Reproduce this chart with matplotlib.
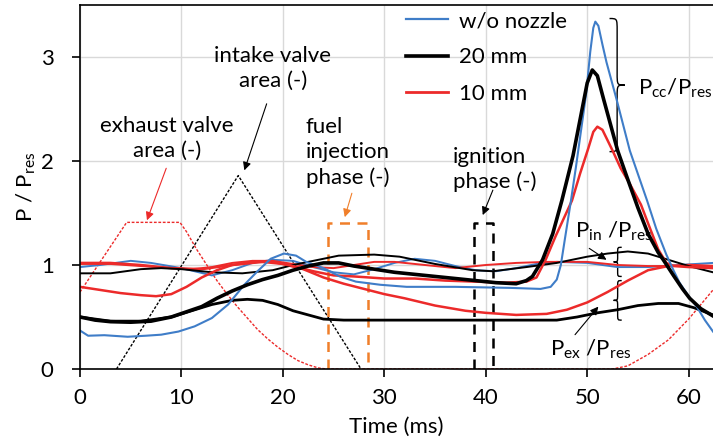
import matplotlib
matplotlib.use("Agg")
import matplotlib.pyplot as plt
from matplotlib.path import Path
from matplotlib.patches import PathPatch
from matplotlib.lines import Line2D

plt.rcParams.update({"font.family": ["Lato", "DejaVu Sans"], "font.size": 15,
                     "mathtext.fontset": "custom", "mathtext.rm": "Lato",
                     "mathtext.it": "Lato:italic", "mathtext.bf": "Lato:bold"})

CBLUE, CBLACK, CRED, CORANGE = "#3f7dc8", "#000000", "#ec2a2a", "#f07f2a"

# ---- data (time in ms, pressure ratio) ----
T_CC_BLUE = [0, 0.8, 2.4, 4.7, 6.5, 8, 9.7, 11.3, 13, 14.6, 16.2, 17.5, 18.8, 20.1, 21.3, 22.3, 24, 25.6,
             27.2, 29.6, 32.2, 37, 42.4, 45.4, 46.4, 47.0, 47.4, 47.8, 48.4, 48.9, 49.4, 49.9, 50.3, 50.6,
             50.8, 51.1, 51.5, 51.9, 52.9, 54.2, 55.9, 56.8, 57.8, 58.5, 59.1, 60.0, 60.8, 61.6, 62.4]
CC_BLUE = [0.37, 0.32, 0.325, 0.31, 0.32, 0.33, 0.36, 0.41, 0.49, 0.62, 0.81, 0.94, 1.06, 1.11, 1.09, 1.03,
           0.97, 0.89, 0.84, 0.81, 0.79, 0.79, 0.78, 0.77, 0.79, 0.86, 1.0, 1.25, 1.62, 1.95, 2.3, 2.65,
           3.05, 3.28, 3.34, 3.3, 3.12, 2.95, 2.59, 2.1, 1.62, 1.35, 1.1, 0.95, 0.83, 0.7, 0.6, 0.47, 0.36]
T_IN_BLUE = [0, 2, 5, 7, 10, 13, 15, 17, 19, 21, 23, 25, 27, 29, 31, 33, 35, 37, 39, 41, 43, 45, 47, 50,
             53, 56, 59, 62.4]
IN_BLUE = [0.98, 1.0, 1.04, 1.02, 0.97, 0.9, 0.95, 1.02, 1.05, 1.04, 0.98, 0.93, 0.91, 0.96, 1.02, 1.06,
           1.04, 0.99, 0.95, 0.94, 0.97, 1.01, 1.03, 1.02, 0.98, 0.98, 1.0, 1.02]

T_CC_BLACK = [0, 1.5, 3, 5, 7, 9, 10.5, 12, 13.5, 15, 16.5, 18, 19.5, 21, 22.5, 24, 25.5, 27, 29, 31, 33,
              35, 37, 39, 41, 43, 44, 44.6, 45.6, 46.6, 47.5, 48.6, 49.5, 50.0, 50.5, 51.0, 51.6, 52.3, 53.0,
              53.9, 55.0, 56.0, 57.0, 57.5, 58.5, 59.4, 60.1, 61.2, 62.4]
CC_BLACK = [0.5, 0.47, 0.455, 0.45, 0.46, 0.5, 0.55, 0.6, 0.68, 0.75, 0.81, 0.86, 0.9, 0.95, 0.99, 1.02,
            1.02, 0.99, 0.96, 0.93, 0.91, 0.89, 0.87, 0.85, 0.83, 0.82, 0.85, 0.89, 1.05, 1.3, 1.62, 2.05,
            2.5, 2.75, 2.875, 2.82, 2.6, 2.35, 2.1, 1.85, 1.55, 1.3, 1.12, 1.05, 0.9, 0.77, 0.68, 0.58, 0.51]
T_IN_BLACK = [0, 3, 6, 8, 10, 13, 16, 19, 21, 23, 25.5, 29, 31.5, 35, 38.7, 40.7, 44, 47, 50, 52, 54, 56,
              58, 60, 62.4]
IN_BLACK = [0.92, 0.92, 0.96, 0.97, 0.96, 0.93, 0.92, 0.95, 1.0, 1.04, 1.09, 1.1, 1.08, 1.01, 0.95, 0.94,
            0.98, 1.02, 1.08, 1.11, 1.13, 1.11, 1.05, 0.99, 0.93]
T_EX_BLACK = [0, 3, 6, 9, 11, 13, 15, 16.5, 18, 19.5, 21, 22.5, 24, 26, 30, 35, 40, 44, 47, 49, 51, 53, 55,
              57, 59, 60.5, 62.4]
EX_BLACK = [0.5, 0.46, 0.46, 0.5, 0.56, 0.62, 0.66, 0.67, 0.66, 0.62, 0.56, 0.52, 0.48, 0.47, 0.47, 0.47,
            0.47, 0.47, 0.47, 0.5, 0.54, 0.57, 0.61, 0.63, 0.63, 0.59, 0.52]

T_CC_RED = [0, 2, 4, 6, 7.5, 9, 10.5, 12, 13.5, 15, 17, 19, 21, 23, 25, 27, 30, 33, 36, 39, 42, 44, 45,
            45.9, 46.9, 47.7, 48.5, 49.3, 50.1, 50.6, 51.0, 51.5, 52.0, 52.5, 53.3, 54.2, 55.3, 56.2, 57.0,
            57.8, 58.5, 60, 62.4]
CC_RED = [0.79, 0.76, 0.73, 0.71, 0.7, 0.72, 0.79, 0.88, 0.95, 1.0, 1.03, 1.03, 0.99, 0.94, 0.9, 0.89, 0.87,
          0.87, 0.85, 0.84, 0.83, 0.84, 0.88, 1.05, 1.28, 1.45, 1.62, 1.88, 2.12, 2.28, 2.33, 2.3, 2.2, 2.1,
          1.93, 1.78, 1.58, 1.35, 1.15, 1.02, 0.99, 0.98, 0.97]
T_IN_RED = [0, 3, 6, 9, 11, 13, 15, 17, 19, 21, 23, 25, 27, 29, 31, 34, 37, 40, 43, 46, 48, 50, 53, 56, 59,
            62.4]
IN_RED = [1.01, 1.01, 0.99, 0.97, 0.96, 0.98, 1.02, 1.04, 1.04, 1.01, 0.98, 0.97, 1.0, 1.03, 1.03, 1.0,
          0.97, 1.0, 1.02, 1.03, 1.03, 1.03, 1.0, 0.99, 0.99, 0.99]
T_EX_RED = [0, 3, 6, 9, 12, 15, 18, 20, 22, 24, 26, 28, 30, 32, 35, 38, 40, 43, 46, 48, 50, 52, 54, 56, 58,
            60, 62.4]
EX_RED = [1.02, 1.02, 1.0, 0.97, 0.96, 1.0, 1.03, 1.01, 0.96, 0.88, 0.82, 0.77, 0.72, 0.68, 0.61, 0.56,
          0.54, 0.52, 0.53, 0.57, 0.64, 0.74, 0.85, 0.95, 0.99, 1.0, 0.99]

T_EXH_VALVE = [0, 4.6, 9.85, 10.5, 11.5, 12.5, 13.5, 14.5, 15.5, 16.5, 17.5, 18.5, 19.5, 20.5, 21.5, 22.5,
               23.5, 24.3, 52.5, 54, 56, 58, 60, 62.4]
EXH_VALVE = [0.74, 1.41, 1.41, 1.32, 1.15, 1.0, 0.85, 0.72, 0.6, 0.49, 0.38, 0.29, 0.21, 0.14, 0.08, 0.04,
             0.01, 0, 0, 0.03, 0.14, 0.28, 0.48, 0.76]
T_INT_VALVE = [3.6, 15.6, 27.7]
INT_VALVE = [0, 1.86, 0]
T_FUEL = [24.4, 24.4, 28.4, 28.4]
FUEL = [0, 1.4, 1.4, 0]
T_IGN = [38.8, 38.8, 40.75, 40.75]
IGN = [0, 1.4, 1.4, 0]


def brace(ax, x, y0, y1, w, r, lw=1.0):
    """vertical curly brace from y0 to y1 at x, tip pointing by w (sign gives direction)"""
    ym, h = (y0 + y1) / 2, w / 2
    verts = [(x, y1), (x + h, y1), (x + h, y1), (x + h, y1 - r), (x + h, ym + r),
             (x + h, ym), (x + h, ym), (x + w, ym),
             (x + h, ym), (x + h, ym), (x + h, ym - r), (x + h, y0 + r),
             (x + h, y0), (x + h, y0), (x, y0)]
    codes = [Path.MOVETO] + [Path.CURVE4] * 3 + [Path.LINETO] + [Path.CURVE4] * 6 + [Path.LINETO] + \
            [Path.CURVE4] * 3
    ax.add_patch(PathPatch(Path(verts, codes), fill=False, lw=lw, color="black"))


fig = plt.figure(figsize=(7.13, 4.41), dpi=100)
ax = fig.add_axes([80 / 713, 1 - 369 / 441, (713 - 80) / 713, (369 - 5) / 441])

# valve areas and phases
ax.plot(T_EXH_VALVE, EXH_VALVE, color=CRED, lw=1.0, ls=(0, (2, 1.2)), zorder=2)
ax.plot(T_INT_VALVE, INT_VALVE, color=CBLACK, lw=1.0, ls=(0, (2, 1.2)), zorder=2)
ax.plot(T_FUEL, FUEL, color=CORANGE, lw=1.8, ls=(0, (4, 3)), zorder=2)
ax.plot(T_IGN, IGN, color=CBLACK, lw=1.8, ls=(0, (4, 3)), zorder=2)

# pressures
ax.plot(T_IN_BLUE, IN_BLUE, color=CBLUE, lw=1.4)
ax.plot(T_IN_RED, IN_RED, color=CRED, lw=1.4)
ax.plot(T_EX_RED, EX_RED, color=CRED, lw=1.8)
ax.plot(T_IN_BLACK, IN_BLACK, color=CBLACK, lw=1.4)
ax.plot(T_EX_BLACK, EX_BLACK, color=CBLACK, lw=2.0)
ax.plot(T_CC_RED, CC_RED, color=CRED, lw=1.8)
ax.plot(T_CC_BLUE, CC_BLUE, color=CBLUE, lw=1.5)
ax.plot(T_CC_BLACK, CC_BLACK, color=CBLACK, lw=2.6)

ax.set_xlim(0, 62.4)
ax.set_ylim(0, 3.5)
ax.set_xticks([0, 10, 20, 30, 40, 50, 60])
ax.set_yticks([0, 1, 2, 3])
ax.grid(True, color="#d9d9d9", lw=1.0)
ax.set_axisbelow(True)
ax.spines["right"].set_visible(False)
for s in ("left", "bottom", "top"):
    ax.spines[s].set_linewidth(1.2)
ax.tick_params(direction="out", length=6, width=1.2, labelsize=16)
ax.tick_params(axis="x", pad=8)
ax.tick_params(axis="y", pad=13)
ax.set_xlabel("Time (ms)", fontsize=16, labelpad=6)
ax.set_ylabel("P / P$_{\\rm res}$", fontsize=16, labelpad=2)

# legend
handles = [Line2D([], [], color=CBLUE, lw=1.6), Line2D([], [], color=CBLACK, lw=2.6),
           Line2D([], [], color=CRED, lw=2.0)]
ax.legend(handles, ["w/o nozzle", "20 mm", "10 mm"], loc="upper left", bbox_to_anchor=(0.494, 1.02),
          frameon=False, fontsize=16, handlelength=1.9, handletextpad=0.5, labelspacing=0.74,
          borderpad=0.1)

# annotations
arw = dict(arrowstyle="-|>", lw=0.8, mutation_scale=12, shrinkA=0, shrinkB=0)
ax.annotate("", xy=(6.6, 1.43), xytext=(8.5, 1.93), arrowprops=dict(arw, color=CRED))
ax.annotate("", xy=(16.2, 1.91), xytext=(18.4, 2.55), arrowprops=dict(arw, color=CBLACK))
ax.annotate("", xy=(26.1, 1.46), xytext=(26.8, 1.69), arrowprops=dict(arw, color=CORANGE))
ax.annotate("", xy=(39.7, 1.48), xytext=(40.7, 1.72), arrowprops=dict(arw, color=CBLACK))
ax.annotate("", xy=(51.9, 1.05), xytext=(50.2, 1.16), arrowprops=dict(arw, color=CBLACK))
ax.annotate("", xy=(51.1, 0.60), xytext=(48.8, 0.33), arrowprops=dict(arw, color=CBLACK))

txt = dict(fontsize=16, linespacing=1.3)
ax.text(8.57, 2.22, "exhaust valve\narea (-)", ha="center", va="center", **txt)
ax.text(19.0, 2.89, "intake valve\narea (-)", ha="center", va="center", **txt)
ax.text(22.27, 2.08, "fuel\ninjection\nphase (-)", ha="left", va="center", **txt)
ax.text(36.75, 1.92, "ignition\nphase (-)", ha="left", va="center", **txt)
ax.text(55.0, 2.70, "P$_{\\rm cc}$/P$_{\\rm res}$", ha="left", va="center", fontsize=16)
ax.text(48.8, 1.32, "P$_{\\rm in}$ /P$_{\\rm res}$", ha="left", va="center", fontsize=16)
ax.text(46.3, 0.19, "P$_{\\rm ex}$ /P$_{\\rm res}$", ha="left", va="center", fontsize=16)

brace(ax, 52.2, 2.09, 3.37, 1.5, 0.12)
brace(ax, 53.4, 0.89, 1.17, -0.8, 0.05)
brace(ax, 53.4, 0.47, 0.85, -0.8, 0.06)

fig.savefig("out.png", dpi=100)
